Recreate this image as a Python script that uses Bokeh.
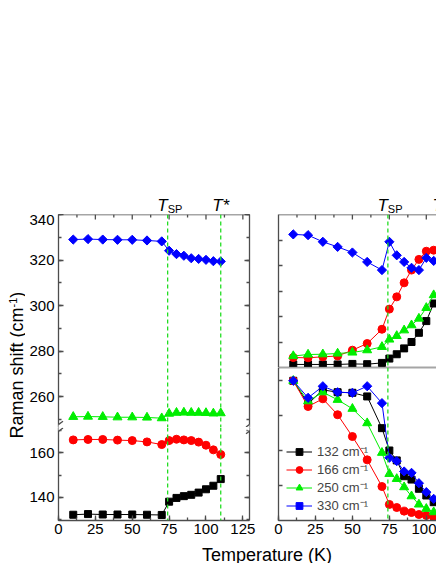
import math
from bokeh.plotting import figure
from bokeh.models import (Range1d, LinearAxis, SingleIntervalTicker, FixedTicker, Label, Arrow, Span,
                          Legend, LegendItem, CustomJSTickFormatter)
from bokeh.layouts import row, column
from bokeh.embed import file_html
from bokeh.resources import INLINE

# ---------------- data ----------------
T_LEFT = [10, 20, 30, 40, 50, 60, 70, 75, 80, 85, 90, 95, 100, 105, 110]
SHIFT_132 = [132.1, 132.4, 132.2, 132.2, 132.2, 132.1, 132.0, 138.0, 139.7, 140.5, 141.1, 142.1, 143.6, 145.2, 148.2]
SHIFT_166 = [165.9, 166.1, 166.1, 165.8, 165.6, 165.0, 163.8, 165.6, 166.2, 165.9, 165.6, 164.9, 163.5, 161.4, 159.3]
SHIFT_250 = [251.2, 251.3, 251.2, 251.0, 251.0, 250.9, 250.6, 252.6, 253.0, 253.1, 253.0, 253.0, 252.9, 252.7, 252.8]
SHIFT_330 = [329.0, 329.2, 329.0, 328.9, 328.9, 328.6, 328.2, 324.1, 322.6, 321.9, 320.8, 320.5, 320.1, 319.5, 319.4]

T_RIGHT = [10, 20, 30, 40, 50, 60, 70, 75, 80, 85, 90, 95, 100, 105]
UPPER_132 = [0.12, 0.12, 0.12, 0.12, 0.14, 0.13, 0.18, 0.35, 0.52, 0.75, 1.00, 1.36, 1.82, 2.51]
UPPER_166 = [0.39, 0.38, 0.42, 0.45, 0.68, 0.94, 1.50, 2.29, 2.77, 3.32, 3.82, 4.24, 4.56, 4.60]
UPPER_250 = [0.45, 0.51, 0.52, 0.55, 0.59, 0.68, 0.81, 1.10, 1.24, 1.46, 1.66, 1.92, 2.34, 2.84]
UPPER_330 = [5.22, 5.19, 4.93, 4.73, 4.51, 4.14, 3.82, 4.93, 4.40, 4.14, 3.91, 3.82, 4.30, 4.18]

LOWER_132 = [1.0, 0.835, 0.935, 0.918, 0.914, 0.888, 0.661, 0.501, 0.430, 0.317, 0.293, 0.227, 0.179, 0.131]
LOWER_166 = [1.0, 0.816, 0.871, 0.757, 0.601, 0.434, 0.243, 0.115, 0.093, 0.067, 0.057, 0.043, 0.036, 0.024]
LOWER_250 = [1.0, 0.854, 0.918, 0.864, 0.800, 0.697, 0.485, 0.334, 0.298, 0.239, 0.174, 0.115, 0.084, 0.060]
LOWER_330 = [1.0, 0.878, 0.961, 0.918, 0.914, 0.961, 0.840, 0.449, 0.425, 0.351, 0.341, 0.267, 0.203, 0.155]

RT_TICKS = [1, 2, 3, 4, 5]
RB_TICKS = [0.25, 0.5, 0.75, 1.0]
TOP_MAJOR = [25, 50, 75, 100, 125]
TOP_MINOR = [12.5, 37.5, 62.5, 87.5, 112.5]

T_SP = 74
T_STAR = 110
SERIES_LABELS = ["132 cm\u207b\u00b9", "166 cm\u207b\u00b9", "250 cm\u207b\u00b9", "330 cm\u207b\u00b9"]
Y_LABEL_MAIN = "Raman shift (cm"
Y_LABEL_SUP = "-1"
Y_LABEL_END = ")"
X_LABEL = "Temperature (K)"

# ---------------- styles ----------------
FONT = "Liberation Sans"
FRAME = "#4d4d4d"
FRAME_W = 1.3
DASH = "#22dd22"
COLORS = ["#000000", "#ff0000", "#00ee00", "#0000ff"]
MARKERS = [("square", 7, 0.0), ("circle", 8, 0.0), ("triangle", 9, 0.0), ("square", 6.5, math.pi / 4)]
BASELINE_FIX = 0.25  # em; compensates the renderer's placement of alphabetic baselines

# ---------------- geometry ----------------
XL = (0, 129.5)
XR = (0, 106.9)
Y_LT = (246.5, 340)
Y_LB = (129.5, 171.5)
Y_RT = (0, 6)
Y_RB = (0, 1.095)
YL_W = 25
L_BL, L_FW, L_BR = 33, 191, 14
R_BL, R_FW = 15, 158
LF_H_T, LF_H_B = 213, 93
RF_H = 153
TOP_H = 214
BOT_B = 26
XLAB_H = 17


def base_fig(w, h, xr, yr, bl=0, br=0, bt=0, bb=0):
    p = figure(width=w, height=h, x_range=Range1d(*xr), y_range=Range1d(*yr),
               output_backend="svg", toolbar_location=None,
               x_axis_location=None, y_axis_location=None,
               min_border_left=bl, min_border_right=br, min_border_top=bt, min_border_bottom=bb)
    p.grid.visible = False
    p.outline_line_color = None
    p.background_fill_color = "white"
    p.border_fill_color = "white"
    return p


def add_axis(p, side, ticker, labels, tick_in=5, standoff=4):
    ax = LinearAxis(ticker=ticker)
    ax.axis_line_color = FRAME
    ax.axis_line_width = FRAME_W
    ax.major_tick_line_color = FRAME
    ax.minor_tick_line_color = FRAME
    ax.major_tick_line_width = FRAME_W
    ax.minor_tick_line_width = FRAME_W
    ax.major_tick_in = tick_in
    ax.major_tick_out = 0
    ax.minor_tick_in = 3
    ax.minor_tick_out = 0
    if labels:
        ax.major_label_text_font = FONT
        ax.major_label_text_font_size = "15px"
        ax.major_label_text_color = "black"
        ax.major_label_standoff = standoff
    else:
        ax.formatter = CustomJSTickFormatter(code="return ''")
        ax.major_label_text_font_size = "0px"
        ax.major_label_standoff = 0
    p.add_layout(ax, side)
    return ax


def interval(step):
    return SingleIntervalTicker(interval=step, num_minor_ticks=2)


def top_edge(p, ytop, sy):
    """Frame line along the top edge plus inward ticks."""
    p.add_layout(Span(location=ytop, dimension="width", line_color=FRAME, line_width=FRAME_W))
    for ticks, length in ((TOP_MAJOR, 5), (TOP_MINOR, 3)):
        p.segment(x0=ticks, y0=[ytop] * len(ticks), x1=ticks, y1=[ytop - length / sy] * len(ticks),
                  line_color=FRAME, line_width=FRAME_W)


def hline(p, loc):
    p.add_layout(Span(location=loc, dimension="width", line_color=FRAME, line_width=FRAME_W))


def draw_series(p, t, series_list):
    items = []
    for vals, col, (mk, sz, ang), lab in zip(series_list, COLORS, MARKERS, SERIES_LABELS):
        l = p.line(t, vals, line_color=col, line_width=1)
        s = p.scatter(t, vals, marker=mk, size=sz, angle=ang, fill_color=col, line_color=col)
        items.append(LegendItem(label=lab, renderers=[l, s]))
    return items


def add_spans(p, locs):
    for loc in locs:
        p.add_layout(Span(location=loc, dimension="height", line_color=DASH,
                          line_dash="4 3", line_width=1.3))


def text(p, x, y, s, size_px, align="left", italic=False, vertical=False):
    fix = BASELINE_FIX * size_px
    if vertical:
        x, angle = x - fix, math.pi / 2
    else:
        y, angle = y + fix, 0.0
    p.add_layout(Label(x=x, y=y, text=s, text_font=FONT, text_font_size=f"{size_px}px",
                       text_font_style="italic" if italic else "normal", angle=angle,
                       text_align=align, text_baseline="alphabetic", text_color="black"))


def t_labels(p, star=True):
    text(p, T_SP, 5, "T", 17, align="right", italic=True)
    text(p, T_SP, 2.5, "SP", 11, align="left")
    if star:
        text(p, T_STAR, 5, "T*", 17, align="center", italic=True)


def seg(p, x0, y0, x1, y1, color, width):
    p.add_layout(Arrow(end=None, x_start=x0, y_start=y0, x_end=x1, y_end=y1,
                       line_color=color, line_width=width))


def add_break(p, yedge, sy, up):
    sx = L_FW / (XL[1] - XL[0])
    sgn = 1 if up else -1
    for xe in XL:
        seg(p, xe, yedge, xe, yedge + sgn * 3.0 / sy, "white", 4)
        if up:
            seg(p, xe - 3.5 / sx, yedge + 0.5 / sy, xe + 4.5 / sx, yedge + 6.3 / sy, FRAME, FRAME_W)
        else:
            seg(p, xe - 3.5 / sx, yedge - 6.3 / sy, xe + 4.5 / sx, yedge - 0.5 / sy, FRAME, FRAME_W)


# ---------------- top strips with T labels ----------------
TS_L = base_fig(YL_W + L_BL + L_FW + L_BR, TOP_H, XL, (0, TOP_H),
                bl=YL_W + L_BL, br=L_BR)
t_labels(TS_L)
TS_R = base_fig(R_BL + R_FW, TOP_H, XR, (0, TOP_H), bl=R_BL, br=0)
t_labels(TS_R)

# ---------------- left panel ----------------
LW = L_BL + L_FW + L_BR
SY_LT = LF_H_T / (Y_LT[1] - Y_LT[0])
LT = base_fig(LW, LF_H_T, XL, Y_LT, bl=L_BL, br=L_BR)
add_axis(LT, "left", interval(20), True)
add_axis(LT, "right", interval(20), False)
top_edge(LT, Y_LT[1], SY_LT)
add_spans(LT, [T_SP, T_STAR])
draw_series(LT, T_LEFT, [SHIFT_132, SHIFT_166, SHIFT_250, SHIFT_330])
add_break(LT, Y_LT[0], SY_LT, True)

LB = base_fig(LW, LF_H_B + BOT_B, XL, Y_LB, bl=L_BL, br=L_BR, bb=BOT_B)
add_axis(LB, "left", interval(20), True)
add_axis(LB, "right", interval(20), False)
add_axis(LB, "below", interval(25), True, standoff=3)
add_spans(LB, [T_SP, T_STAR])
draw_series(LB, T_LEFT, [SHIFT_132, SHIFT_166, SHIFT_250, SHIFT_330])
add_break(LB, Y_LB[1], LF_H_B / (Y_LB[1] - Y_LB[0]), False)

# ---------------- right panel ----------------
RW = R_BL + R_FW
RT = base_fig(RW, RF_H, XR, Y_RT, bl=R_BL)
add_axis(RT, "left", FixedTicker(ticks=RT_TICKS), False, tick_in=4)
top_edge(RT, Y_RT[1], RF_H / (Y_RT[1] - Y_RT[0]))
hline(RT, Y_RT[0])
add_spans(RT, [T_SP, T_STAR])
draw_series(RT, T_RIGHT, [UPPER_132, UPPER_166, UPPER_250, UPPER_330])

RB = base_fig(RW, RF_H + BOT_B, XR, Y_RB, bl=R_BL, bb=BOT_B)
add_axis(RB, "left", FixedTicker(ticks=RB_TICKS), False, tick_in=4)
add_axis(RB, "below", interval(25), True, standoff=3)
hline(RB, Y_RB[1])
add_spans(RB, [T_SP, T_STAR])
items = draw_series(RB, T_RIGHT, [LOWER_132, LOWER_166, LOWER_250, LOWER_330])
legend = Legend(items=items, location=(8, 6), padding=0, margin=0, spacing=0,
                glyph_width=26, glyph_height=17, label_height=17, label_standoff=5,
                label_text_font=FONT, label_text_font_size="13px",
                background_fill_alpha=0, border_line_alpha=0)
RB.add_layout(legend)

# ---------------- axis titles ----------------
MID_H = LF_H_T + LF_H_B + BOT_B
YL = base_fig(YL_W, MID_H, (0, YL_W), (0, MID_H))
BASE_Y = MID_H - (438 - TOP_H)
text(YL, 20.5, BASE_Y, Y_LABEL_MAIN, 18, vertical=True)
text(YL, 14.8, BASE_Y + 131.0, Y_LABEL_SUP, 11, vertical=True)
text(YL, 20.5, BASE_Y + 140.8, Y_LABEL_END, 18, vertical=True)

TOTAL_W = YL_W + LW + RW
XLAB = base_fig(TOTAL_W, XLAB_H, (0, TOTAL_W), (0, XLAB_H))
text(XLAB, 266.5, 4.5, X_LABEL, 18, align="center")

layout = column(row(TS_L, TS_R),
                row(YL, column(LT, LB), column(RT, RB)),
                XLAB)

open("out.html", "w").write(file_html(layout, INLINE))
